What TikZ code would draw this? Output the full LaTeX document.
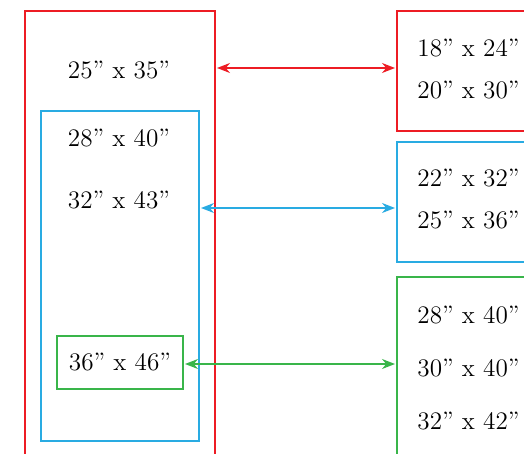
\documentclass[tikz,border=0pt]{standalone}
\usepackage{xcolor}
\usetikzlibrary{arrows.meta}
\definecolor{frRed}{HTML}{ED1C24}
\definecolor{frBlue}{HTML}{29ABE2}
\definecolor{frGreen}{HTML}{39B54A}
\tikzset{
  frame/.style={draw=#1, line width=1pt, inner sep=0pt, anchor=north west},
  size/.style={font=\fontsize{12.6}{14}\selectfont, inner sep=0pt},
  link/.style={draw=#1, line width=0.75pt, shorten <=0.5pt, shorten >=0.5pt,
    {Stealth[length=6.5pt,width=5pt]}-{Stealth[length=6.5pt,width=5pt]}}
}

\begin{document}
\begin{tikzpicture}[x=0.5pt,y=-0.5pt]
\useasboundingbox (0,0) rectangle (524,454);
\clip (0,0) rectangle (524,454);
% nested frames on the left
\node[frame=frRed, minimum width=95pt, minimum height=230pt] (outer) at (24,10) {};
\node[frame=frBlue, minimum width=79pt, minimum height=165pt] (inner) at (40,110) {};
\node[frame=frGreen, minimum width=63pt, minimum height=26.5pt] (core) at (56,335) {};
\node[size] (s2535) at (119,70) {25” x 35”};
\node[size] (s2840) at (119,138) {28” x 40”};
\node[size] (s3243) at (119,200) {32” x 43”};
\node[size] at (core.center) (s3646) {36” x 46”};
% boxes on the right
\node[frame=frRed, minimum width=82pt, minimum height=60pt] (rtop) at (396,10) {};
\node[frame=frBlue, minimum width=82pt, minimum height=60pt] (rmid) at (396,141) {};
\node[frame=frGreen, minimum width=82pt, minimum height=102pt] (rbot) at (396,276) {};
\node[size, anchor=west] (r1824) at (417,48) {18” x 24”};
\node[size, anchor=west] (r2030) at (417,90) {20” x 30”};
\node[size, anchor=west] (r2232) at (417,178) {22” x 32”};
\node[size, anchor=west] (r2536) at (417,220) {25” x 36”};
\node[size, anchor=west] (r2840) at (417,315) {28” x 40”};
\node[size, anchor=west] (r3040) at (417,368) {30” x 40”};
\node[size, anchor=west] (r3242) at (417,421) {32” x 42”};
% links
\draw[link=frRed] ([yshift=1.5pt]outer.east |- rtop.west) -- ([yshift=1.5pt]rtop.west);
\draw[link=frBlue] ([yshift=-3pt]inner.east |- rmid.west) -- ([yshift=-3pt]rmid.west);
\draw[link=frGreen] ([yshift=-0.75pt]core.east) -- ([yshift=-0.75pt]core.east -| rbot.west);
\end{tikzpicture}
\end{document}
